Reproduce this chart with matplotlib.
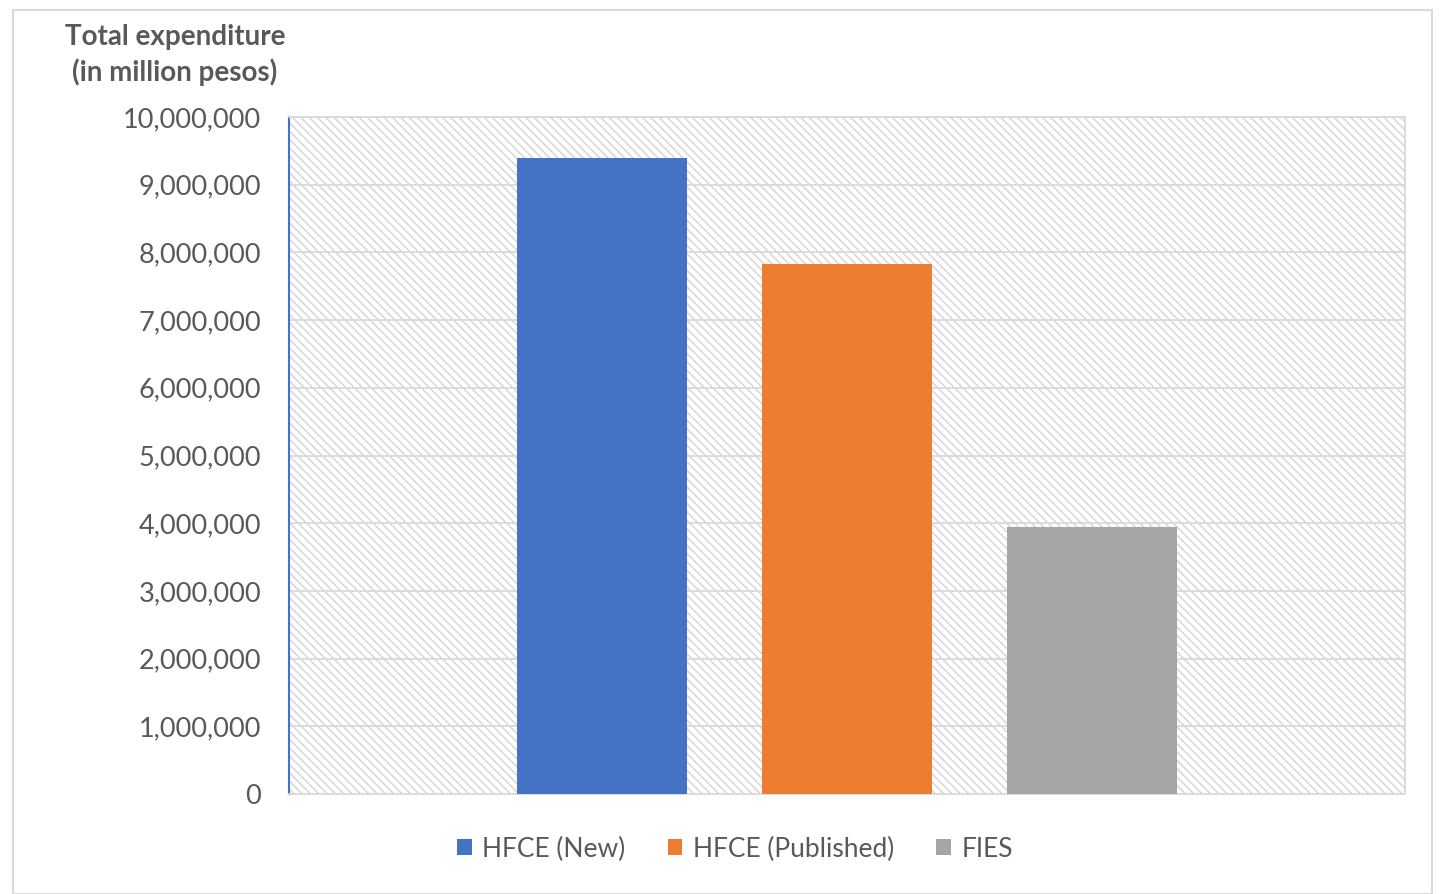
import matplotlib
matplotlib.use("Agg")
import matplotlib.pyplot as plt
from matplotlib.patches import Rectangle
from matplotlib.ticker import FuncFormatter

series = ["HFCE (New)", "HFCE (Published)", "FIES"]
values = [9400000, 7830000, 3940000]
colors = ["#4472C4", "#ED7D31", "#A5A5A5"]
yticks = list(range(0, 10000001, 1000000))

plt.rcParams['font.family'] = ['Lato', 'DejaVu Sans']
plt.rcParams['hatch.linewidth'] = 1.0
plt.rcParams['hatch.color'] = '#D3D3D3'

fig = plt.figure(figsize=(14.45, 8.94), dpi=100)
ax = fig.add_axes([289/1445, 1-794/894, (1405-289)/1445, (794-117)/894])

# outer frame
fig.patches.append(Rectangle((13/1445, 0), (1432-13)/1445, 1-10/894, transform=fig.transFigure,
                             fill=False, edgecolor='#D9D9D9', lw=1.5))

ax.set_facecolor('white')
ax.add_patch(Rectangle((0, 0), 1, 1, transform=ax.transAxes, facecolor='white',
                       edgecolor='#D3D3D3', hatch='\\\\\\\\', lw=0, zorder=0))

xs = [-1, 0, 1]
for x, v, c, s in zip(xs, values, colors, series):
    ax.bar(x, v, width=0.695, color=c, label=s, zorder=3)

ax.set_xlim(-2.278, 2.278)
ax.set_ylim(0, 10000000)
ax.set_yticks(yticks)
ax.yaxis.set_major_formatter(FuncFormatter(lambda v, p: f"{int(v):,}"))
ax.set_xticks([])
ax.grid(axis='y', color='#D9D9D9', lw=1.3, zorder=1)
ax.set_axisbelow(True)
for sp in ['top', 'right', 'bottom']:
    ax.spines[sp].set_color('#D9D9D9')
    ax.spines[sp].set_linewidth(1.3)
ax.spines['left'].set_color('#4472C4')
ax.spines['left'].set_linewidth(1.5)
ax.tick_params(axis='y', length=0, pad=20, labelsize=19.5, labelcolor='#595959')

fig.text(175/1445, 1-55/894, "Total expenditure\n(in million pesos)", ha='center', va='center',
         fontsize=20, fontweight='bold', color='#595959', linespacing=1.35)

leg = fig.legend(loc='center', bbox_to_anchor=(735/1445, 1-849/894), ncol=3, frameon=False,
                 fontsize=19, handlelength=0.55, handleheight=0.55, handletextpad=0.4,
                 columnspacing=1.6)
for t in leg.get_texts():
    t.set_color('#595959')

fig.savefig("out.png", dpi=100)
